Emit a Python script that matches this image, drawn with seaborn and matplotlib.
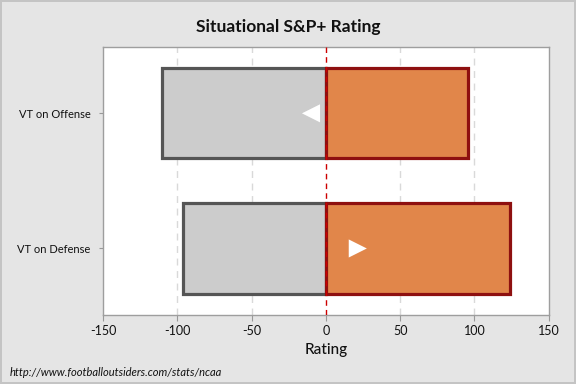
import matplotlib
matplotlib.use("Agg")
import matplotlib.pyplot as plt
import seaborn as sns
import pandas as pd

categories = ["VT on Offense", "VT on Defense"]
opponent_side = [-110.5, -96.0]
vt_side = [95.5, 124.0]
net_marker = [-10.0, 21.5]
marker_shapes = ["<", ">"]
xticks = [-150, -100, -50, 0, 50, 100, 150]

sns.set_theme(style="white")
plt.rcParams["font.family"] = ["Lato", "DejaVu Sans"]

fig = plt.figure(figsize=(5.76, 3.84), dpi=100, facecolor="#e5e5e5")
fig.patch.set_edgecolor("#c4c4c4")
fig.patch.set_linewidth(1.5)
ax = fig.add_axes([103 / 576, 1 - 314.7 / 384, (548.7 - 103) / 576, (314.7 - 46.7) / 384])
ax.set_facecolor("white")

df = pd.DataFrame({"cat": categories, "opp": opponent_side, "vt": vt_side, "net": net_marker})

for xv in [-100, -50, 50, 100]:
    ax.axvline(xv, color="#d9d9d9", lw=1, ls=(0, (5, 4)), zorder=0)

sns.barplot(data=df, x="opp", y="cat", orient="h", color="#cccccc", width=0.667,
            edgecolor="#555555", linewidth=2.3, saturation=1, ax=ax, zorder=2)
sns.barplot(data=df, x="vt", y="cat", orient="h", color="#e1864a", width=0.667,
            edgecolor="#8e1010", linewidth=2.3, saturation=1, ax=ax, zorder=2)

for i, (v, m) in enumerate(zip(net_marker, marker_shapes)):
    ax.scatter([v], [i], marker=m, s=170, color="white", edgecolor="none", zorder=5)

ax.axvline(0, color="#cc0000", lw=1, ls=(0, (4, 3)), zorder=4)

ax.set_xlim(-150, 150)
ax.set_ylim(1.49, -0.493)
ax.set_xticks(xticks)
ax.set_xticklabels([str(t) for t in xticks], fontsize=9, color="#111111")
ax.tick_params(axis="y", labelsize=8, colors="#111111")
ax.tick_params(axis="both", which="both", length=4, width=0.8, color="#999999", direction="out", bottom=True, left=True)
ax.tick_params(axis="y", length=3, pad=6)
for lab in ax.get_yticklabels():
    lab.set_color("#111111")
ax.set_ylabel("")
ax.set_xlabel("Rating", fontsize=11, color="#111111", labelpad=4, fontweight="medium")
for s in ax.spines.values():
    s.set_color("#9e9e9e")
    s.set_linewidth(1)

fig.text(0.5, 1 - 27 / 384, "Situational S&P+ Rating", ha="center", va="center", fontsize=12.5, fontweight="bold", color="#111111")
fig.text(10 / 576, 1 - 372 / 384, "http://www.footballoutsiders.com/stats/ncaa", ha="left", va="center",
         fontsize=8, style="italic", color="#111111")

fig.savefig("out.png", dpi=100, facecolor=fig.get_facecolor(), edgecolor=fig.patch.get_edgecolor())
